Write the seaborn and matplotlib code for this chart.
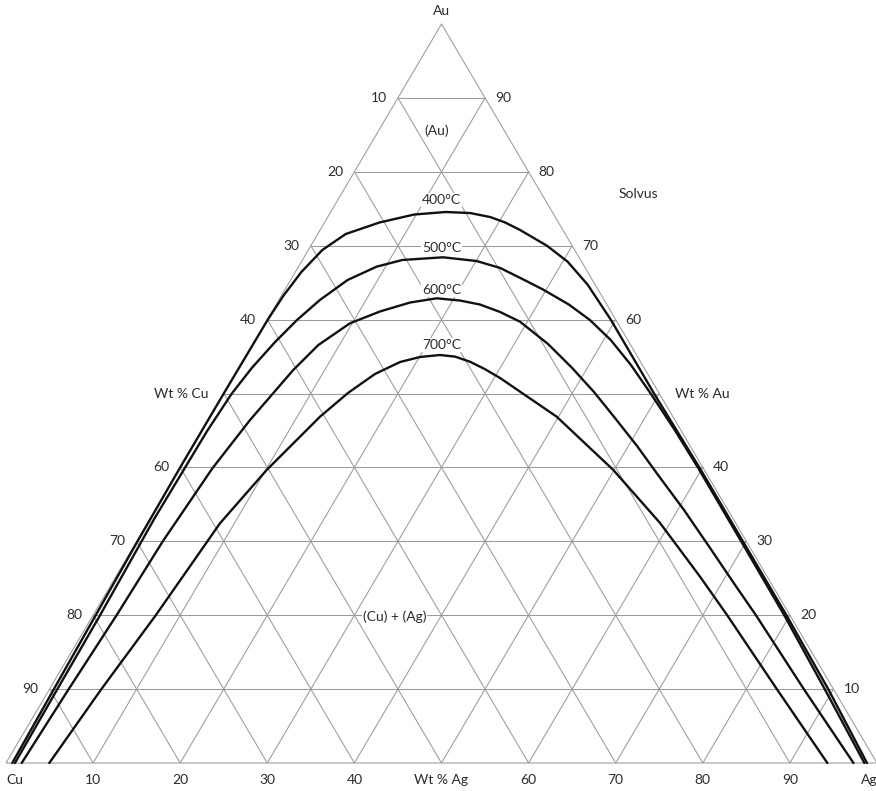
import numpy as np
import pandas as pd
import matplotlib
matplotlib.use("Agg")
import matplotlib.pyplot as plt
from matplotlib import transforms
import seaborn as sns

# Solvus isotherms in the Au-Ag-Cu system, weight percent (Cu = 100 - Au - Ag),
# each listed from the Cu-rich end, over the cap, to the Ag-rich end
AU_400 = [0, 10, 20, 30, 40, 50, 60, 63.19, 66.44, 69.42, 71.58, 73.14, 74.22, 74.56,
          74.42, 73.88, 73.14, 72.12, 70.0, 67.86, 64.75, 60.0, 50, 40, 30, 20, 10, 0]
AG_400 = [0.72, 0.5, 0.3, 0.1, 0.0, 0.0, 0.06, 0.23, 0.69, 1.61, 3.21, 6.31, 9.76, 13.2,
          16.07, 18.65, 20.74, 22.97, 27.1, 30.53, 34.39, 39.43, 49.4, 59.6, 69.6, 79.6, 89.4, 98.85]

AU_500 = [0, 10, 20, 33, 39.88, 44.93, 49.93, 53.45, 56.97, 59.95, 62.65, 65.36, 67.16, 68.07, 68.43,
          67.93, 66.98, 65.36, 64.07, 62.04, 59.95, 57.24, 53.86, 49.93, 45.06, 39.88, 30, 20, 10, 0]
AG_500 = [1.03, 0.9, 0.8, 0.5, 0.57, 0.63, 0.92, 1.49, 2.41, 3.44, 4.71, 6.54, 8.96, 11.48, 15.96,
          20.06, 23.26, 26.83, 29.62, 33.6, 37.06, 40.81, 44.82, 49.09, 54.25, 59.55, 69.4, 79.35, 89.0, 98.55]

AU_600 = [0, 10, 20, 30, 39.88, 46.41, 49.93, 53.18, 56.56, 59.5, 61.1, 62.31, 62.88,
          62.58, 62.04, 61.03, 59.72, 56.7, 53.48, 50.2, 46.68, 42.9, 38.97, 34.24, 29.09, 24.09, 20, 10, 0]
AG_600 = [1.8, 2.2, 2.7, 3.0, 3.76, 4.81, 5.63, 6.39, 7.58, 9.74, 12.39, 15.23, 18.01,
          20.83, 23.4, 26.21, 29.15, 33.88, 38.24, 42.41, 46.58, 51.0, 55.38, 60.72, 66.29, 71.66, 76.1, 86.6, 97.3]

AU_700 = [0, 10, 20, 32.44, 39.65, 46.86, 50.07, 52.64, 54.26, 54.94, 55.21,
          54.99, 54.3, 53.29, 52.1, 46.86, 39.65, 32.48, 25.21, 20, 10, 0]
AG_700 = [4.97, 5.95, 7.2, 8.35, 10.1, 12.62, 14.23, 16.04, 18.11, 20.06, 22.22,
          24.06, 26.12, 28.35, 30.67, 39.8, 49.9, 58.85, 67.08, 72.8, 83.5, 94.3]

TEMPS = ["400°C", "500°C", "600°C", "700°C"]
TEMP_LABEL_AU = [76.2, 69.7, 64.0, 56.6]

GRID_STEPS = [10, 20, 30, 40, 50, 60, 70, 80, 90]
CU_TICKS = ["90", "80", "70", "60", "Wt % Cu", "40", "30", "20", "10"]   # left edge, by Au level
AU_TICKS = ["10", "20", "30", "40", "Wt % Au", "60", "70", "80", "90"]   # right edge, by Au level
AG_TICKS = ["10", "20", "30", "40", "Wt % Ag", "60", "70", "80", "90"]   # base


def tern_xy(au, ag):
    au = np.asarray(au, dtype=float)
    ag = np.asarray(ag, dtype=float)
    return ag + au / 2.0, au


sns.set_theme(style="white")
plt.rcParams["font.family"] = ["Lato", "DejaVu Sans"]

fig = plt.figure(figsize=(8.76, 7.91), dpi=100)
ax = fig.add_axes([0, 0, 1, 1])

grid_kw = dict(color="#9a9a9a", lw=0.75, zorder=1, solid_capstyle="butt")

# triangle outline
ex, ey = tern_xy([0, 0, 100, 0], [0, 100, 0, 0])
ax.plot(ex, ey, **grid_kw)

# 10 % grid: constant Au, constant Ag, constant Cu
for v in GRID_STEPS:
    x, y = tern_xy([v, v], [0, 100 - v])
    ax.plot(x, y, **grid_kw)
    x, y = tern_xy([0, 100 - v], [v, v])
    ax.plot(x, y, **grid_kw)
    x, y = tern_xy([0, 100 - v], [100 - v, 0])
    ax.plot(x, y, **grid_kw)

# solvus curves
frames = []
for name, au, ag in zip(TEMPS, [AU_400, AU_500, AU_600, AU_700], [AG_400, AG_500, AG_600, AG_700]):
    x, y = tern_xy(au, ag)
    frames.append(pd.DataFrame({"x": x, "y": y, "T": name}))
curves = pd.concat(frames, ignore_index=True)
sns.lineplot(data=curves, x="x", y="y", hue="T", units="T", estimator=None, sort=False,
             palette=["#111111"] * 4, linewidth=1.7, legend=False, ax=ax, zorder=3,
             solid_joinstyle="round", solid_capstyle="round")

ax.set_xlim(-6 / 8.71, 870 / 8.71)
ax.set_ylim(-28 / 7.39, 763 / 7.39)
ax.axis("off")

txt_kw = dict(fontsize=10, color="#2b2b2b")


def off(dx, dy):
    return transforms.offset_copy(ax.transData, fig=fig, x=dx, y=dy, units="dots")


# edge labels
for v, lab in zip(GRID_STEPS, CU_TICKS):
    x, y = tern_xy(v, 0)
    dx = -15 if lab.startswith("Wt") else -11
    ax.text(x, y, lab, ha="right", va="center", transform=off(dx, 0), **txt_kw)
for v, lab in zip(GRID_STEPS, AU_TICKS):
    x, y = tern_xy(v, 100 - v)
    dx = 16 if lab.startswith("Wt") else 10
    ax.text(x, y, lab, ha="left", va="center", transform=off(dx, 0), **txt_kw)
for v, lab in zip(GRID_STEPS, AG_TICKS):
    x, y = tern_xy(0, v)
    ax.text(x, y, lab, ha="center", va="center", transform=off(0, -17), **txt_kw)

# corner labels
x, y = tern_xy(0, 0)
ax.text(x, y, "Cu", ha="center", va="center", transform=off(9, -17), **txt_kw)
x, y = tern_xy(0, 100)
ax.text(x, y, "Ag", ha="left", va="center", transform=off(-16, -17), **txt_kw)
x, y = tern_xy(100, 0)
ax.text(x, y, "Au", ha="center", va="center", transform=off(0, 13), **txt_kw)

box = dict(boxstyle="square,pad=0.08", fc="white", ec="none")

# isotherm labels
for lab, au in zip(TEMPS, TEMP_LABEL_AU):
    ax.text(50.0, au, lab, ha="center", va="center", zorder=4, bbox=box, **txt_kw)

# phase field labels
ax.text(49.5, 85.5, "(Au)", ha="center", va="center", zorder=4, **txt_kw)
ax.text(44.6, 19.8, "(Cu) + (Ag)", ha="center", va="center", zorder=4, bbox=box, **txt_kw)
ax.text(72.6, 77.0, "Solvus", ha="center", va="center", zorder=4, **txt_kw)

fig.savefig("out.png", dpi=100, facecolor="white")
